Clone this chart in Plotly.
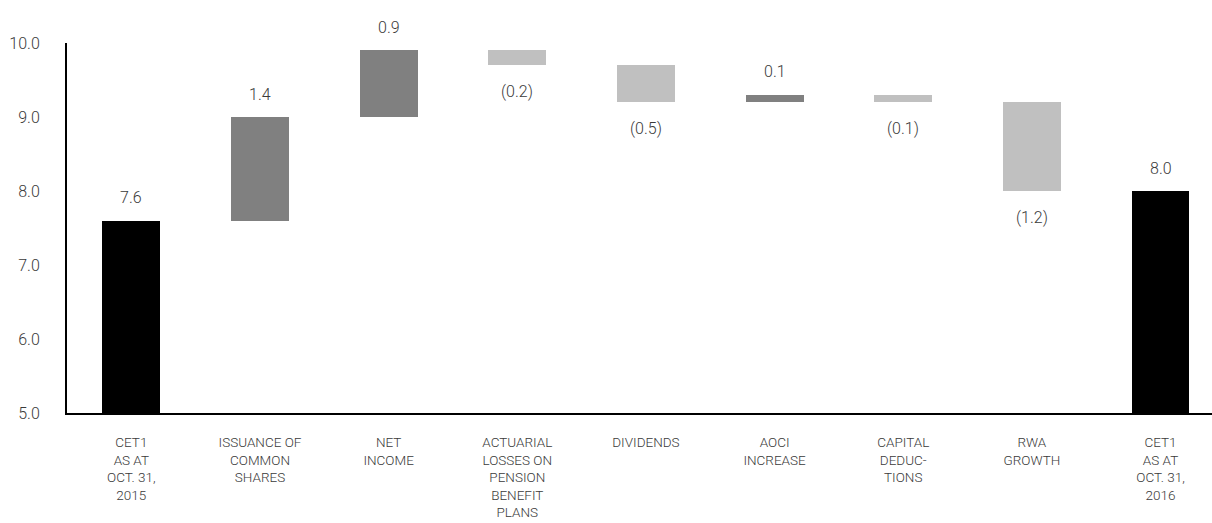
import plotly.graph_objects as go

# CET1 ratio walk, Oct. 31, 2015 -> Oct. 31, 2016
categories = [
    "CET1<br>AS AT<br>OCT. 31,<br>2015",
    "ISSUANCE OF<br>COMMON<br>SHARES",
    "NET<br>INCOME",
    "ACTUARIAL<br>LOSSES ON<br>PENSION<br>BENEFIT<br>PLANS",
    "DIVIDENDS",
    "AOCI<br>INCREASE",
    "CAPITAL<br>DEDUC-<br>TIONS",
    "RWA<br>GROWTH",
    "CET1<br>AS AT<br>OCT. 31,<br>2016",
]
opening = 7.6
changes = [1.4, 0.9, -0.2, -0.5, 0.1, -0.1, -1.2]
closing = 8.0
y_ticks = [5.0, 6.0, 7.0, 8.0, 9.0, 10.0]

BLACK = "#000000"
UP = "#808080"
DOWN = "#c0c0c0"
FONT = "Roboto, sans-serif"
TEXT_COLOR = "#3a3a3a"

# bar geometry from the running total
bases, heights, colors, labels, ends = [], [], [], [], []
bases.append(0)
heights.append(opening)
colors.append(BLACK)
labels.append(f"{opening:.1f}")
ends.append((opening, 1))

level = opening
for d in changes:
    bases.append(level)
    heights.append(d)
    colors.append(UP if d > 0 else DOWN)
    labels.append(f"{d:.1f}" if d > 0 else f"({abs(d):.1f})")
    level = round(level + d, 4)
    ends.append((level, 1 if d > 0 else -1))

bases.append(0)
heights.append(closing)
colors.append(BLACK)
labels.append(f"{closing:.1f}")
ends.append((closing, 1))

x_idx = list(range(len(categories)))

fig = go.Figure()
fig.add_trace(go.Bar(
    x=x_idx,
    y=heights,
    base=bases,
    marker=dict(color=colors, line=dict(width=0)),
    width=0.45,
    hoverinfo="skip",
))

annotations = []
for i, (lab, (yv, sgn)) in enumerate(zip(labels, ends)):
    annotations.append(dict(
        x=i, y=yv, text=lab, showarrow=False,
        xref="x", yref="y", yanchor="middle",
        yshift=23 if sgn > 0 else -26,
        font=dict(family=FONT, size=16, color=TEXT_COLOR, weight=300),
    ))

fig.update_layout(
    width=1212, height=523,
    margin=dict(l=67, r=0, t=43, b=110, pad=0),
    paper_bgcolor="white",
    plot_bgcolor="white",
    showlegend=False,
    annotations=annotations,
    bargap=0,
    font=dict(family=FONT, size=16, color=TEXT_COLOR, weight=300),
)
fig.update_xaxes(
    range=[-0.5, 8.4],
    tickmode="array",
    tickvals=x_idx,
    ticktext=categories,
    showgrid=False,
    zeroline=False,
    showline=True,
    linecolor="black",
    linewidth=2,
    ticks="",
    automargin=False,
    ticklabelstandoff=16,
    tickfont=dict(family=FONT, size=13.5, color=TEXT_COLOR, weight=300),
)
fig.update_yaxes(
    range=[5, 10],
    tickmode="array",
    tickvals=y_ticks,
    ticktext=[f"{v:.1f}" for v in y_ticks],
    showgrid=False,
    zeroline=False,
    showline=True,
    linecolor="black",
    linewidth=2,
    ticks="",
    automargin=False,
    ticklabelstandoff=22,
    tickfont=dict(family=FONT, size=16, color=TEXT_COLOR, weight=300),
)

fig.write_html("out.html")
